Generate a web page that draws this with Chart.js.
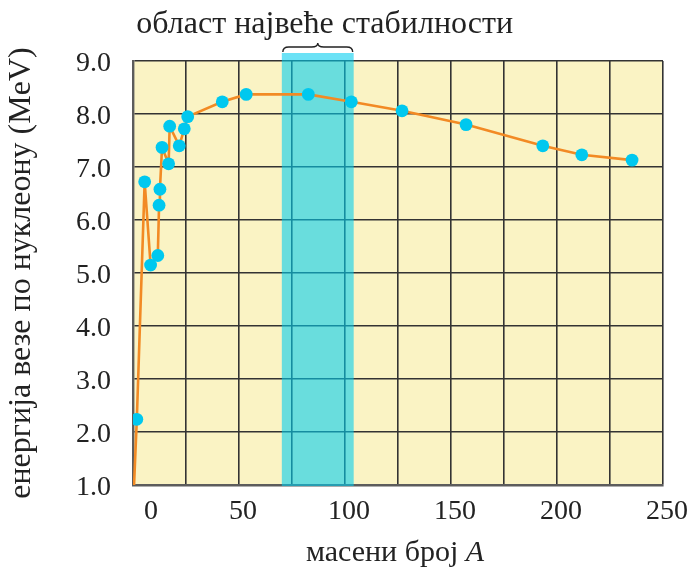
<!DOCTYPE html>
<html>
<head>
<meta charset="utf-8">
<script src="https://cdn.jsdelivr.net/npm/chart.js@4"></script>
<style>
  body { margin: 0; background: #fff; }
  canvas { display: block; }
</style>
</head>
<body>
<canvas id="bindingChart" width="697" height="575"></canvas>
<script>
// mass number A and binding energy per nucleon (MeV)
const massNumbers = [0.5, 1.8, 5.5, 8.3, 11.7, 12.3, 12.7, 13.7, 16.8, 17.3, 21.8, 24.2, 25.8, 42.1, 53.4, 82.7, 103, 126.9, 157.1, 193.3, 211.7, 235.4];
const energies = [1.0, 2.24, 6.72, 5.15, 5.33, 6.28, 6.58, 7.37, 7.06, 7.77, 7.40, 7.72, 7.95, 8.23, 8.37, 8.37, 8.23, 8.06, 7.80, 7.40, 7.23, 7.13];
const yTicks = [1, 2, 3, 4, 5, 6, 7, 8, 9];
const xLabels = [0, 50, 100, 150, 200, 250];
const stableRange = [70.2, 104.1];

const serif = '"Liberation Serif", "DejaVu Serif", serif';

const points = massNumbers.map((a, i) => ({ x: a, y: energies[i] }));

// yellow plot background
const plotBackground = {
    id: 'plotBackground',
    beforeDraw(chart) {
        const { ctx, chartArea: a } = chart;
        ctx.save();
        ctx.fillStyle = 'rgb(250,243,196)';
        ctx.fillRect(a.left, a.top, a.right - a.left, a.bottom - a.top);
        ctx.restore();
    }
};

// cyan band over the grid, brace and caption above it
const stableBand = {
    id: 'stableBand',
    beforeDatasetsDraw(chart) {
        const { ctx, chartArea: a, scales: { x } } = chart;
        const x1 = x.getPixelForValue(stableRange[0]);
        const x2 = x.getPixelForValue(stableRange[1]);
        ctx.save();
        ctx.fillStyle = 'rgba(0,205,240,0.58)';
        ctx.fillRect(x1, a.top - 8, x2 - x1, a.bottom - a.top + 9);
        ctx.restore();
    },
    afterDraw(chart) {
        const { ctx, chartArea: a, scales: { x } } = chart;
        const x1 = x.getPixelForValue(stableRange[0]) + 1;
        const x2 = x.getPixelForValue(stableRange[1]) - 1;
        const mid = (x1 + x2) / 2;
        const y = a.top - 14;
        ctx.save();
        ctx.strokeStyle = '#222';
        ctx.lineWidth = 1.4;
        ctx.beginPath();
        ctx.moveTo(x1, y + 5);
        ctx.quadraticCurveTo(x1, y, x1 + 6, y);
        ctx.lineTo(mid - 6, y);
        ctx.quadraticCurveTo(mid, y, mid, y - 4);
        ctx.quadraticCurveTo(mid, y, mid + 6, y);
        ctx.lineTo(x2 - 6, y);
        ctx.quadraticCurveTo(x2, y, x2, y + 5);
        ctx.stroke();

        ctx.fillStyle = '#222';
        ctx.font = '32px ' + serif;
        ctx.textAlign = 'center';
        ctx.textBaseline = 'alphabetic';
        ctx.fillText('област највеће стабилности', mid + 7, 33);
        ctx.restore();
    }
};

// x axis title with an italic A
const xAxisTitle = {
    id: 'xAxisTitle',
    afterDraw(chart) {
        const { ctx, chartArea: a } = chart;
        const plain = 'масени број ';
        const fontPlain = '30px ' + serif;
        const fontItalic = 'italic 30px ' + serif;
        ctx.save();
        ctx.fillStyle = '#222';
        ctx.textBaseline = 'alphabetic';
        ctx.textAlign = 'left';
        ctx.font = fontPlain;
        const w1 = ctx.measureText(plain).width;
        ctx.font = fontItalic;
        const w2 = ctx.measureText('A').width;
        const start = (a.left + a.right) / 2 - 3 - (w1 + w2) / 2;
        ctx.font = fontPlain;
        ctx.fillText(plain, start, 561);
        ctx.font = fontItalic;
        ctx.fillText('A', start + w1, 561);
        ctx.restore();
    }
};

new Chart(document.getElementById('bindingChart'), {
    type: 'line',
    data: {
        datasets: [{
            data: points,
            borderColor: '#f28a24',
            borderWidth: 2.6,
            backgroundColor: '#00c8ef',
            pointBackgroundColor: '#00c8ef',
            pointBorderWidth: 0,
            pointRadius: points.map((p, i) => i === 0 ? 0 : 6.4),
            tension: 0
        }]
    },
    options: {
        responsive: false,
        animation: false,
        layout: { padding: { top: 61, right: 34, left: 0, bottom: 0 } },
        plugins: {
            legend: { display: false },
            tooltip: { enabled: false }
        },
        scales: {
            x: {
                type: 'linear',
                min: 0,
                max: 250,
                afterFit: s => { s.height = 90; },
                grid: { color: '#333', lineWidth: 1.6, drawTicks: false },
                border: { color: '#5c5c5c', width: 2.4 },
                ticks: {
                    stepSize: 25,
                    padding: 10,
                    labelOffset: 4,
                    maxRotation: 0,
                    autoSkip: false,
                    color: '#222',
                    font: { family: serif, size: 28 },
                    callback: v => xLabels.includes(v) ? (v === 0 ? '\u2007\u20070' : String(v)) : ''
                }
            },
            y: {
                min: 1,
                max: 9,
                afterFit: s => { s.width = 133; },
                afterBuildTicks: s => { s.ticks = yTicks.map(v => ({ value: v })); },
                grid: { color: '#333', lineWidth: 1.6, drawTicks: false },
                border: { color: '#5c5c5c', width: 2.4 },
                ticks: {
                    padding: 22,
                    labelOffset: 3,
                    color: '#222',
                    font: { family: serif, size: 28 },
                    callback: v => v.toFixed(1)
                },
                title: {
                    display: true,
                    text: 'енергија везе по нуклеону (MeV)',
                    color: '#222',
                    font: { family: serif, size: 32 },
                    padding: { top: 2 }
                }
            }
        }
    },
    plugins: [plotBackground, stableBand, xAxisTitle]
});
</script>
</body>
</html>
